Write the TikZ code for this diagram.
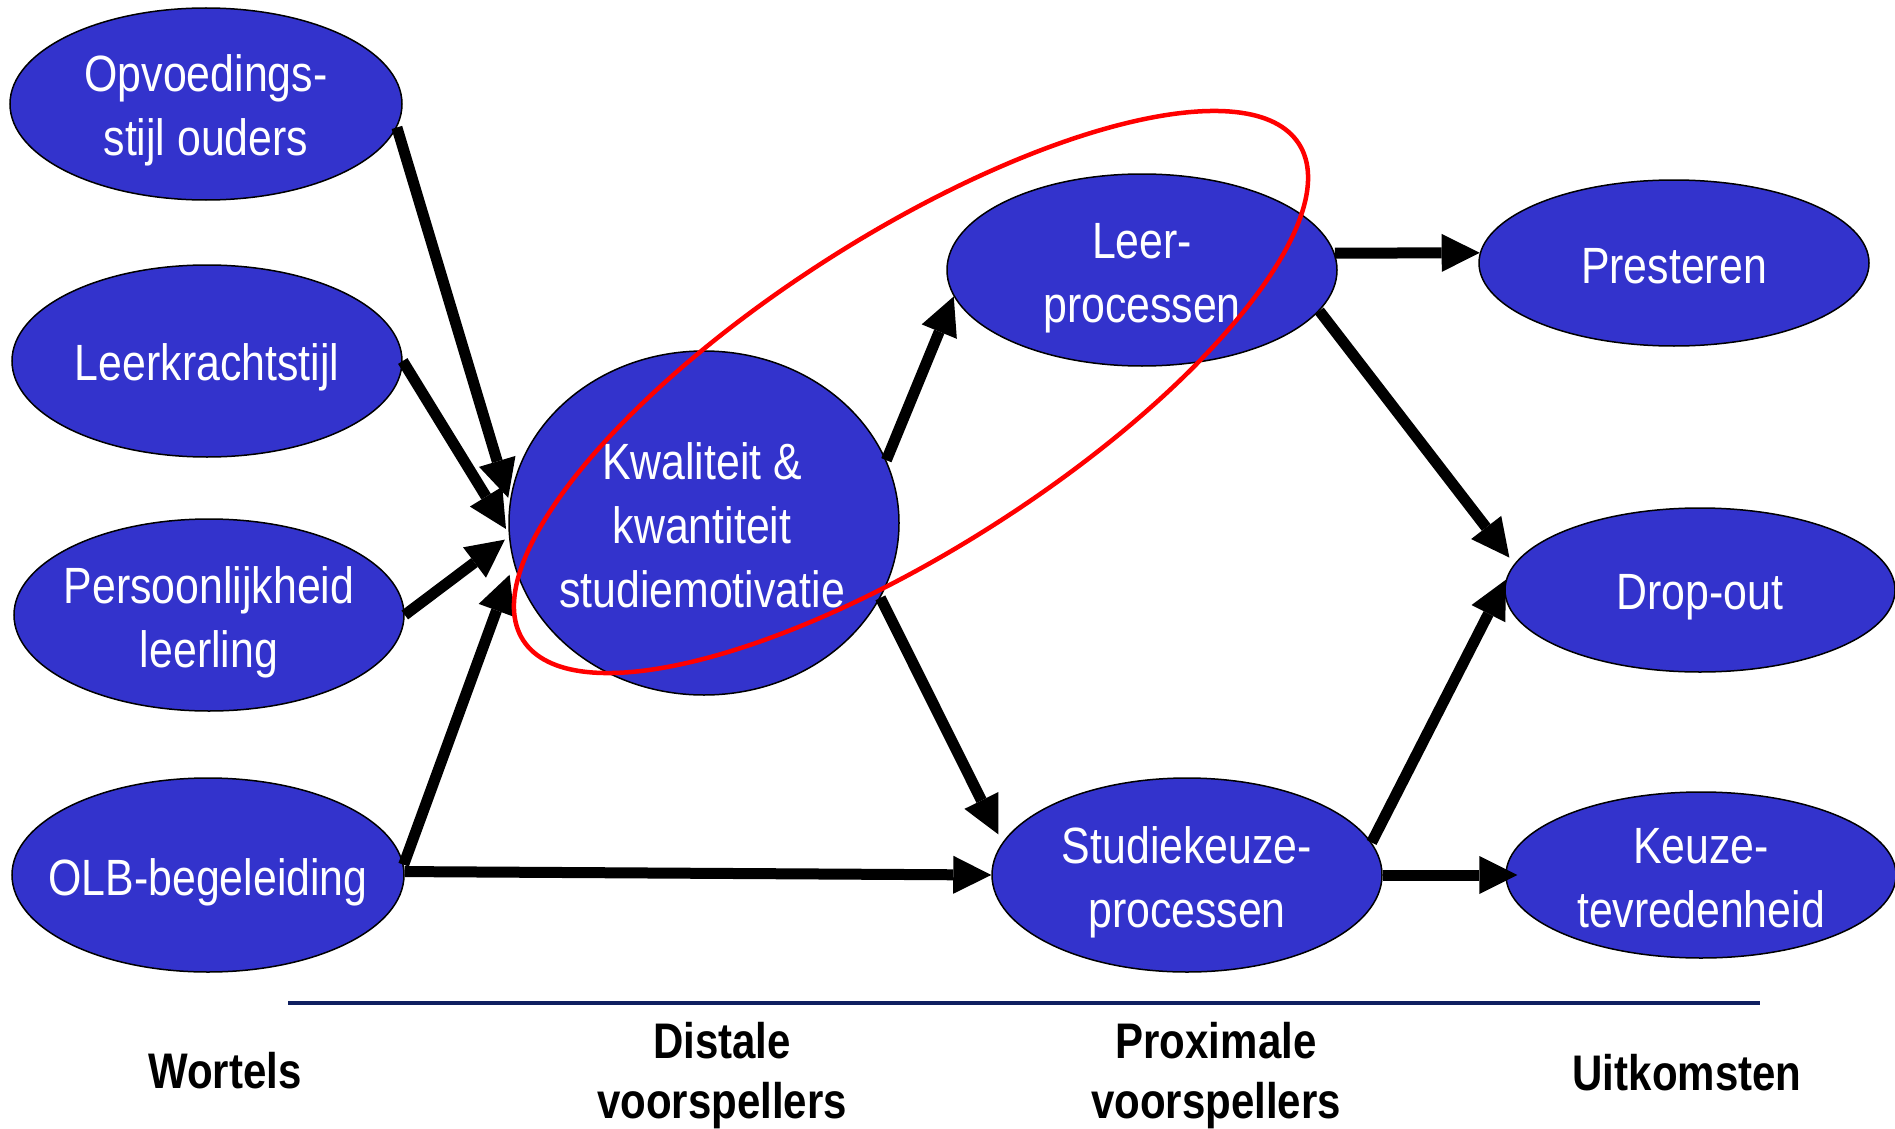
\documentclass[tikz,border=0pt]{standalone}
\usepackage{fontspec}
\setmainfont{Liberation Sans}
\newfontfamily\narrowfont[FakeStretch=0.84]{Liberation Sans}
\usetikzlibrary{arrows.meta,shapes.geometric}
\definecolor{nodeblue}{RGB}{51,51,204}
\definecolor{rulenavy}{RGB}{16,32,96}
\definecolor{ringred}{RGB}{255,0,0}
\begin{document}
\begin{tikzpicture}[x=1pt,y=1pt,
  blob/.style={ellipse, draw=black, line width=1.5pt, fill=nodeblue, inner sep=0pt},
  blobtxt/.style={text=white, align=center, inner sep=0pt, anchor=base,
    font=\narrowfont\fontsize{51}{64}\selectfont},
  conn/.style={line width=11pt, -{Triangle[length=38pt,width=38pt,line width=0pt]}},
  lbl/.style={align=center, inner sep=0pt, anchor=base,
    font=\narrowfont\bfseries\fontsize{50}{60}\selectfont}]
\useasboundingbox (0,0) rectangle (1895,-1129);

% ellipses
\node[blob, minimum width=392pt, minimum height=192pt] (opv) at (206,-104) {};
\node[blob, minimum width=390pt, minimum height=192pt] (lkr) at (207,-361) {};
\node[blob, minimum width=390pt, minimum height=192pt] (per) at (209,-615) {};
\node[blob, minimum width=392pt, minimum height=194pt] (olb) at (208,-875) {};
\node[blob, minimum width=390pt, minimum height=344pt] (kwa) at (704,-523) {};
\node[blob, minimum width=390pt, minimum height=192pt] (leer) at (1142,-270) {};
\node[blob, minimum width=390pt, minimum height=194pt] (stu) at (1187,-875) {};
\node[blob, minimum width=390pt, minimum height=166pt] (pres) at (1674,-263) {};
\node[blob, minimum width=390pt, minimum height=164pt] (drop) at (1700,-590) {};
\node[blob, minimum width=390pt, minimum height=166pt] (keuze) at (1701,-875) {};

% texts (base anchor = baseline of the last line)
\node[blobtxt] (opvt) at (206,-156) {Opvoedings-\\stijl ouders};
\node[blobtxt] (lkrt) at (207,-380) {Leerkrachtstijl};
\node[blobtxt] (pert) at (209,-667) {Persoonlijkheid\\leerling};
\node[blobtxt] (olbt) at (208,-895) {OLB-begeleiding};
\node[blobtxt] (kwat) at (702,-607) {Kwaliteit \&\\kwantiteit\\studiemotivatie};
\node[blobtxt] (leert) at (1142,-322) {Leer-\\processen};
\node[blobtxt] (stut) at (1187,-927) {Studiekeuze-\\processen};
\node[blobtxt] (prest) at (1674,-283) {Presteren};
\node[blobtxt] (dropt) at (1700,-609) {Drop-out};
\node[blobtxt] (keuzet) at (1701,-927) {Keuze-\\tevredenheid};

% connectors
\draw[conn, shorten >=5pt] (opv.-7.6) -- (kwa.174.3);
\draw[conn, shorten >=5pt] (lkr.east) -- (kwa.183.5);
\draw[conn, shorten >=5pt] (per.east) -- (kwa.184.3);
\draw[conn, shorten >=12pt] (olb.3) -- (kwa.192);
\draw[conn] (olb.1.5) -- (stu.west);
\draw[conn] (kwa.19.2) -- (leer.188.3);
\draw[conn, shorten >=9pt] (kwa.-23.9) -- (stu.170.7);
\draw[conn] (leer.5) -- (pres.177.4);
\draw[conn, shorten >=8pt] (leer.-13.8) -- (drop.172.7);
\draw[conn] (stu.10) -- (drop.177.9);
\draw[conn, shorten >=-12pt] (stu.east) -- (keuze.west);

% red ring
\draw[ringred, line width=4.5pt, rotate around={32.6:(911,-392)}] (911,-392) ellipse [x radius=460.5, y radius=156.6];

% rule
\coordinate (rl) at (288,-1003);
\coordinate (rr) at (1760,-1003);
\draw[rulenavy, line width=3.5pt] (rl) -- (rr);

% labels
\node[lbl] (wort) at (225,-1088) {Wortels};
\node[lbl] (dist) at (722,-1118) {Distale\\voorspellers};
\node[lbl] (prox) at (1216,-1118) {Proximale\\voorspellers};
\node[lbl] (uitk) at (1687,-1090) {Uitkomsten};
\end{tikzpicture}
\end{document}
